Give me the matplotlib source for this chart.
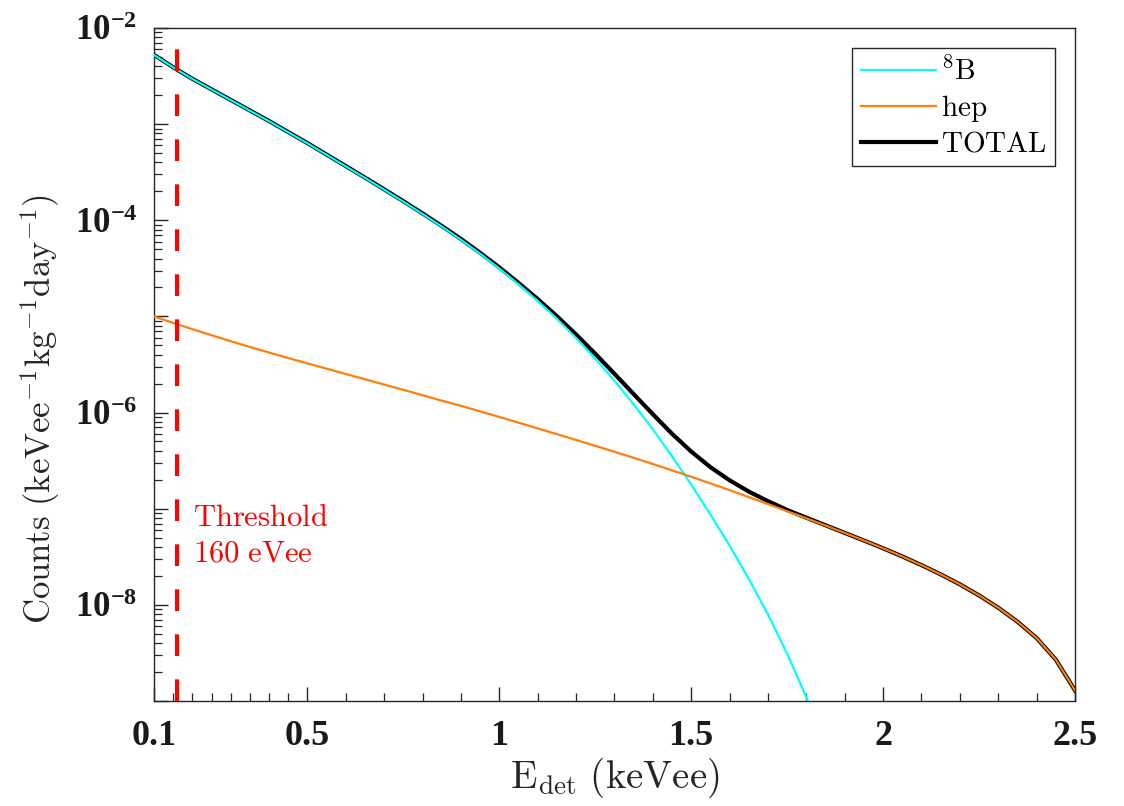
import numpy as np
import matplotlib
matplotlib.use("Agg")
import matplotlib.pyplot as plt
from matplotlib.ticker import FixedLocator, FuncFormatter, LogLocator, NullFormatter

plt.rcParams['mathtext.fontset'] = 'custom'
plt.rcParams['mathtext.rm'] = 'Liberation Serif'
plt.rcParams['mathtext.bf'] = 'Liberation Serif:bold'
plt.rcParams['font.family'] = ['Liberation Serif', 'DejaVu Serif']

# energy grid (keVee) shared by both spectra
E = [0.10, 0.15, 0.20, 0.25, 0.30, 0.35, 0.40, 0.45, 0.50, 0.55, 0.60, 0.65,
     0.70, 0.75, 0.80, 0.85, 0.90, 0.95, 1.00, 1.05, 1.10, 1.15, 1.20, 1.25,
     1.30, 1.35, 1.40, 1.45, 1.50, 1.55, 1.60, 1.65, 1.70, 1.75, 1.80, 1.85,
     1.90, 1.95, 2.00, 2.05, 2.10, 2.15, 2.20, 2.25, 2.30, 2.35, 2.40, 2.45,
     2.50]

# log10 of counts (nan = below the plotted range)
log_b8 = [-2.280, -2.410, -2.530, -2.640, -2.750, -2.860, -2.970, -3.085,
          -3.200, -3.320, -3.440, -3.560, -3.683, -3.807, -3.935, -4.066,
          -4.203, -4.349, -4.503, -4.667, -4.840, -5.025, -5.225, -5.440,
          -5.670, -5.915, -6.175, -6.455, -6.750, -7.060, -7.385, -7.730,
          -8.100, -8.510, -8.960, -9.450, np.nan, np.nan, np.nan, np.nan,
          np.nan, np.nan, np.nan, np.nan, np.nan, np.nan, np.nan, np.nan,
          np.nan]
log_hep = [-5.000, -5.068, -5.133, -5.196, -5.258, -5.318, -5.376, -5.433,
           -5.489, -5.544, -5.599, -5.654, -5.709, -5.764, -5.820, -5.877,
           -5.930, -5.988, -6.046, -6.105, -6.165, -6.225, -6.285, -6.346,
           -6.408, -6.471, -6.535, -6.601, -6.668, -6.737, -6.807, -6.879,
           -6.952, -7.027, -7.100, -7.175, -7.252, -7.331, -7.412, -7.497,
           -7.587, -7.683, -7.787, -7.902, -8.030, -8.175, -8.345, -8.570,
           -8.890]

E = np.array(E)
b8 = 10.0 ** np.array(log_b8)
hep = 10.0 ** np.array(log_hep)
total = np.nan_to_num(b8) + hep

threshold = 0.16

fig = plt.figure(figsize=(11.24, 8.06), dpi=100)
ax = fig.add_axes([0.137, 0.1303, 0.8194, 0.835])

l_tot, = ax.plot(E, total, color='black', lw=3.0, zorder=2)
l_b8, = ax.plot(E, b8, color='#00FFFF', lw=1.6, zorder=3)
l_hep, = ax.plot(E, hep, color='#FF7F0E', lw=1.6, zorder=3)
ax.axvline(threshold, color='#FF0000', lw=3.0, dashes=(5.2, 5.6), zorder=4)

ax.set_yscale('log')
ax.set_xlim(0.1, 2.5)
ax.set_ylim(1e-9, 1e-2)

ax.text(0.202, 10 ** -7.18, r'$\mathrm{Threshold}$', color='#FF0000',
        fontsize=22, va='baseline', math_fontfamily='cm')
ax.text(0.202, 10 ** -7.55, r'$\mathrm{160\ eVee}$', color='#FF0000',
        fontsize=22, va='baseline', math_fontfamily='cm')

# ticks, MATLAB style
ax.xaxis.set_major_locator(FixedLocator([0.1, 0.5, 1, 1.5, 2, 2.5]))
ax.set_xticklabels(['0.1', '0.5', '1', '1.5', '2', '2.5'])
ax.xaxis.set_minor_locator(FixedLocator(
    [0.15, 0.2, 0.25, 0.3, 0.35, 0.4, 0.45, 0.6, 0.7, 0.8, 0.9, 1.1, 1.2,
     1.3, 1.4, 1.6, 1.7, 1.8, 1.9, 2.1, 2.2, 2.3, 2.4]))
ax.yaxis.set_major_locator(LogLocator(base=10, numticks=20))
ax.yaxis.set_minor_locator(LogLocator(base=10, subs=np.arange(2, 10), numticks=20))
ax.yaxis.set_minor_formatter(NullFormatter())


def ylab(v, pos):
    e = int(round(np.log10(v)))
    if e % 2 == 0:
        return r'$\mathbf{10^{%d}}$' % e
    return ''


ax.yaxis.set_major_formatter(FuncFormatter(ylab))
ax.tick_params(which='both', direction='in', top=False, right=False,
               colors='#262626', labelcolor='#1a1a1a')
ax.tick_params(which='major', length=10, width=1.0, labelsize=25)
ax.tick_params(axis='x', which='major', labelsize=26, pad=14)
ax.tick_params(axis='y', which='major', pad=12)
ax.tick_params(which='minor', length=6, width=0.9)
for t in ax.get_xticklabels():
    t.set_fontweight('bold')
for s in ax.spines.values():
    s.set_color('#262626')
    s.set_linewidth(1.0)

ax.set_xlabel(r'$\mathrm{E_{det}\ (keVee)}$', fontsize=28,
              math_fontfamily='cm', color='#262626')
ax.xaxis.set_label_coords(0.5, -0.082)
ax.set_ylabel(r'$\mathrm{Counts\ (keVee^{-1}kg^{-1}day^{-1})}$', fontsize=25,
              math_fontfamily='cm', color='#262626')
ax.yaxis.set_label_coords(-0.1, 0.433)

leg = ax.legend([l_b8, l_hep, l_tot],
                [r'$^{8}\mathrm{B}$', r'$\mathrm{hep}$', r'$\mathrm{TOTAL}$'],
                loc='upper right', fontsize=21, fancybox=False, framealpha=1,
                edgecolor='#262626', handlelength=2.6, handletextpad=0.15,
                labelspacing=0.25, borderpad=0.3, borderaxespad=0.68)
leg.get_frame().set_linewidth(1.0)
for t in leg.get_texts():
    t.set_math_fontfamily('cm')

fig.savefig('out.png', dpi=100)
